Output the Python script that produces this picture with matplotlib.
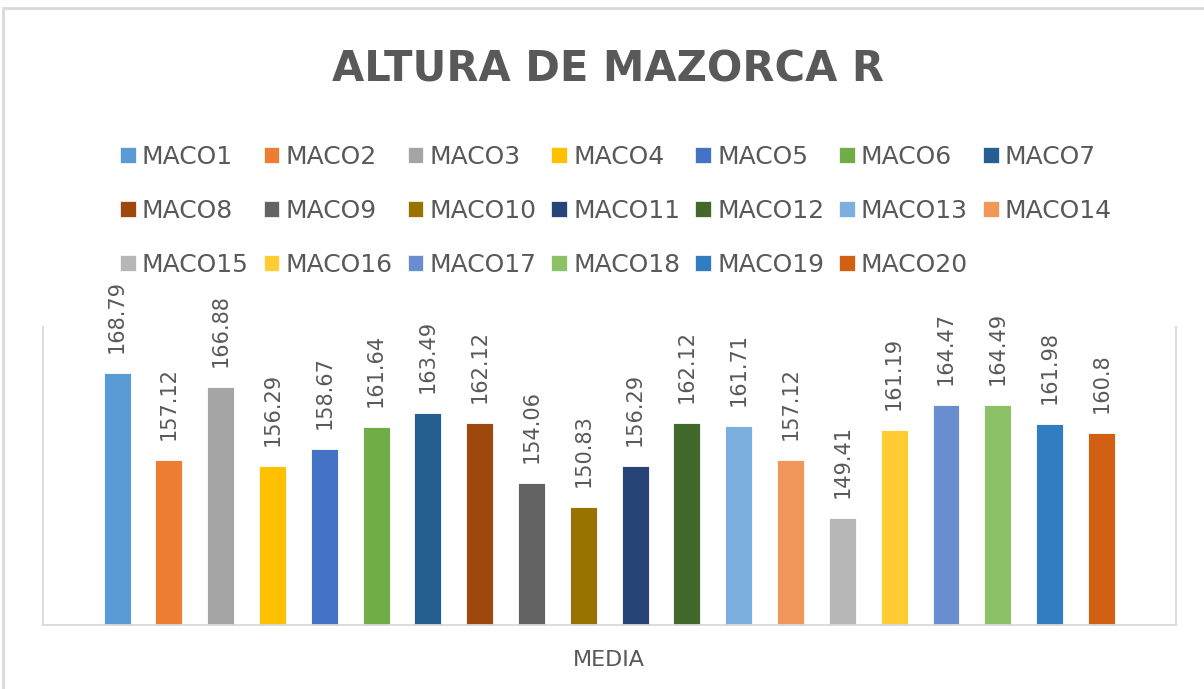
import matplotlib
matplotlib.use("Agg")
import matplotlib.pyplot as plt
from matplotlib.patches import Rectangle

series = [f"MACO{i}" for i in range(1, 21)]
values = [168.79, 157.12, 166.88, 156.29, 158.67, 161.64, 163.49, 162.12, 154.06, 150.83,
          156.29, 162.12, 161.71, 157.12, 149.41, 161.19, 164.47, 164.49, 161.98, 160.8]
labels = ["168.79", "157.12", "166.88", "156.29", "158.67", "161.64", "163.49", "162.12",
          "154.06", "150.83", "156.29", "162.12", "161.71", "157.12", "149.41", "161.19",
          "164.47", "164.49", "161.98", "160.8"]
colors = ["#5B9BD5", "#ED7D31", "#A5A5A5", "#FFC000", "#4472C4", "#70AD47", "#255E91",
          "#9E480E", "#636363", "#997300", "#264478", "#43682B", "#7CAFDD", "#F1975A",
          "#B7B7B7", "#FFCD33", "#698ED0", "#8CC168", "#327DC2", "#D26012"]
category = "MEDIA"
title = "ALTURA DE MAZORCA R"

W, H = 1204, 689
fig = plt.figure(figsize=(W / 100, H / 100), dpi=100)
fig.patch.set_facecolor("white")

# outer chart frame
fig.patches.append(Rectangle((3 / W, -0.1), 1.2, 1 - 8 / H + 0.1, transform=fig.transFigure,
                             fill=False, edgecolor="#D9D9D9", linewidth=2.0))

ax = fig.add_axes([43 / W, 1 - 625 / H, (1176 - 43) / W, (625 - 327) / H])
x = list(range(len(values)))
ax.bar(x, [v - 135 for v in values], bottom=135, width=0.52, color=colors,
       edgecolor="white", linewidth=0.6)
ax.set_ylim(135, 175)
ax.set_xlim(-1.43, 20.44)
ax.set_yticks([])
ax.set_xticks([9.5])
ax.set_xticklabels([category], fontsize=16, color="#595959")
ax.tick_params(axis="x", length=0, pad=18)
for s in ["left", "right", "bottom"]:
    ax.spines[s].set_color("#D9D9D9")
    ax.spines[s].set_linewidth(1.3)
ax.spines["top"].set_visible(False)

for xi, v, lab in zip(x, values, labels):
    ax.annotate(lab, (xi, v), xytext=(0, 20), textcoords="offset pixels",
                rotation=90, ha="center", va="bottom", fontsize=15, color="#595959")

fig.text(608 / W, 1 - 70 / H, title, ha="center", va="center", fontsize=30,
         fontweight="bold", color="#595959")

handles = [Rectangle((0, 0), 1, 1, facecolor=c, edgecolor="white", linewidth=0.5) for c in colors]
ncol = 7
order = [r * ncol + c for c in range(ncol) for r in range(3) if r * ncol + c < len(series)]
fig.legend([handles[i] for i in order], [series[i] for i in order], loc="upper center",
           bbox_to_anchor=(616 / W, 1 - 132 / H),
           ncol=ncol, frameon=False, fontsize=18, handlelength=0.62, handleheight=0.62,
           handletextpad=0.25, columnspacing=0.6, labelspacing=1.2, borderpad=0,
           labelcolor="#595959")

fig.savefig("out.png", dpi=100, facecolor="white")
